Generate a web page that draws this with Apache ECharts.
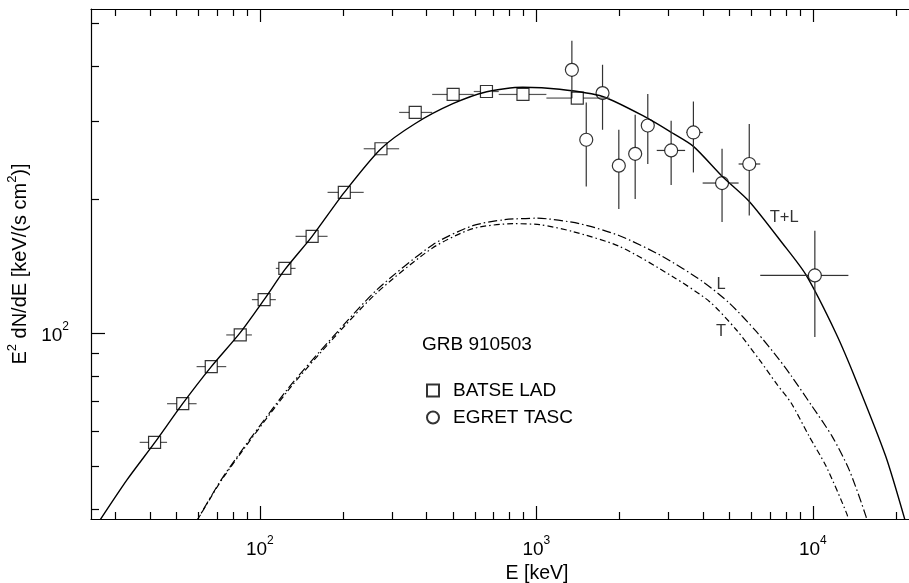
<!DOCTYPE html>
<html>
<head>
<meta charset="utf-8">
<script src="https://cdn.jsdelivr.net/npm/echarts@6/dist/echarts.min.js"></script>
<style>
    html, body {margin: 0; padding: 0; background: #fff;}
    #spectrum {width: 909px; height: 583px;}
</style>
</head>
<body>
<div id="spectrum"></div>
<script>
// axis ranges (keV, keV/(s cm2))
const xRange = [24.5, 22270];
const yRange = [38.1, 537];
const xMajor = [100, 1000, 10000];
const xMinor = [30, 40, 50, 60, 70, 80, 90, 200, 300, 400, 500, 600, 700, 800, 900,
    2000, 3000, 4000, 5000, 6000, 7000, 8000, 9000, 20000];
const yMajor = [100];
const yMinor = [40, 50, 60, 70, 80, 90, 200, 300, 400, 500];

// BATSE LAD points and energy bin edges
const batseE = [41.6, 52.6, 66.7, 84.9, 103.6, 123.1, 154.5, 202.0, 274.1, 364.6, 500, 659.9, 894.4, 1406];
const batseF = [56.7, 69.3, 84.0, 99.0, 118.9, 139.8, 165.1, 207.4, 260.1, 314.0, 344.7, 350.0, 344.7, 338.3];
const batseBins = [36.75, 46.16, 59.03, 75.56, 93.56, 114.2, 134.6, 175.7, 237.4, 318.9, 419.9, 593.6, 730.9, 1087, 1839];

// EGRET TASC points
const egretE = [1344, 1735, 1515, 1987, 2277, 2529, 3072, 3698, 4694, 5888, 10167];
const egretF = [391.7, 347.2, 272.5, 238.2, 253.3, 293.4, 257.8, 283.0, 217.7, 240.3, 134.8];
const egretFlo = [338, 287.0, 213.9, 190.3, 200.4, 240.3, 215.4, 230.0, 177.8, 184.0, 97.9];
const egretFhi = [455.3, 402.1, 330.7, 287.0, 310.2, 345.4, 300.8, 332.3, 260.1, 295.6, 170.0];
const egretElo = [1344, 1735, 1515, 1987, 2277, 2529, 2725, 3488, 3994, 5388, 6452];
const egretEhi = [1344, 1735, 1515, 1987, 2277, 2529, 3451, 3994, 5388, 6452, 13443];

// model curves: T+L (solid), L (dash-dot), T (dashed)
const tlE = [25.9, 33.1, 41.65, 52.56, 66.72, 84.9, 103.6, 123.1, 154.5, 202.0, 274.1, 363.7, 498.7,
    661.6, 892.4, 1214, 1735, 2522, 3105, 3698, 4705, 5888, 7749, 9434, 12106, 14300, 18345, 21720];
const tlF = [37.2, 46.72, 56.61, 69.31, 83.98, 100.2, 118.9, 138.9, 165.1, 207.4, 260.1, 296.1, 328.5,
    349.6, 357.8, 354.1, 341.1, 304.9, 282.2, 263.3, 225.3, 197.9, 159.5, 135.3, 100, 78.5, 52.75, 37.2];
const lE = [58.4, 73.71, 125.5, 183.9, 265.2, 422.3, 588.8, 768.3, 1003, 1433, 1999, 2858, 3985,
    4986, 6240, 7556, 8349, 9942, 11740, 13521, 15575, 15704];
const lF = [37.2, 47.48, 74.54, 98.1, 125.2, 158.1, 174.5, 180.0, 181.4, 176.3, 165.6, 148.8, 130.7,
    116.8, 100.8, 87.1, 80.1, 68.34, 58.5, 49.22, 38.58, 37.2];
const tE = [58.4, 73.71, 125.5, 183.9, 265.2, 422.3, 588.8, 821.2, 1028, 1352, 1999, 3105, 4223,
    5284, 6400, 7431, 8349, 9697, 11169, 13300, 13467];
const tF = [37.2, 47.23, 73.77, 97.1, 123.3, 155.6, 171.8, 176.3, 175.4, 169.3, 156.7, 134.1, 117.8,
    101.7, 87.1, 76.48, 69.55, 58.5, 50.07, 38.98, 37.2];

// curve names
const curveNames = ['T+L', 'L', 'T'];
const curveLabelE = [7876, 4655, 4655];
const curveLabelF = [181.8, 128.5, 100.8];

const FONT = 'Liberation Sans, Arial, Helvetica, sans-serif';
const chart = echarts.init(document.getElementById('spectrum'));

const zip = (a, b) => a.map((v, i) => [v, b[i]]);
const supFmt = (v) => '{b|10}{s|' + Math.round(Math.log10(v)) + '}';
const supRich = {
    b: {fontSize: 19, fontFamily: FONT, color: '#000', lineHeight: 24, verticalAlign: 'bottom'},
    s: {fontSize: 12, fontFamily: FONT, color: '#000', lineHeight: 24, verticalAlign: 'top'},
};

const batseBars = batseE.map((e, i) => [e, batseF[i], batseBins[i], batseBins[i + 1], batseF[i], batseF[i]]);
const egretBars = egretE.map((e, i) => [e, egretF[i], egretElo[i], egretEhi[i], egretFlo[i], egretFhi[i]]);

// error bars stop at the edge of the (hollow) marker
const errorBars = (color, r) => (params, api) => {
    const c = api.coord([api.value(0), api.value(1)]);
    const xl = api.coord([api.value(2), api.value(1)])[0];
    const xh = api.coord([api.value(3), api.value(1)])[0];
    const yl = api.coord([api.value(0), api.value(4)])[1];
    const yh = api.coord([api.value(0), api.value(5)])[1];
    const style = {stroke: color, lineWidth: 1.2};
    const segs = [];
    if (xl < c[0] - r) segs.push([xl, c[1], c[0] - r, c[1]]);
    if (xh > c[0] + r) segs.push([c[0] + r, c[1], xh, c[1]]);
    if (yh < c[1] - r) segs.push([c[0], yh, c[0], c[1] - r]);
    if (yl > c[1] + r) segs.push([c[0], c[1] + r, c[0], yl]);
    return {
        type: 'group',
        children: segs.map((s) => ({type: 'line', shape: {x1: s[0], y1: s[1], x2: s[2], y2: s[3]}, style})),
    };
};

const tickAxis = (kind, pos, values, len, showLine) => ({
    type: 'log',
    position: pos,
    min: kind === 'x' ? xRange[0] : yRange[0],
    max: kind === 'x' ? xRange[1] : yRange[1],
    axisLine: {show: showLine, onZero: false, lineStyle: {color: '#000', width: 1.2}},
    axisTick: {show: true, inside: true, length: len, customValues: values, lineStyle: {color: '#000', width: 1.2}},
    axisLabel: {show: false},
    splitLine: {show: false},
    minorTick: {show: false},
});

const option = {
    animation: false,
    backgroundColor: '#fff',
    grid: {left: 91, right: 0, top: 9, bottom: 64, outerBoundsMode: 'none', containLabel: false},
    title: {
        text: 'GRB 910503',
        left: 422,
        top: 335,
        textStyle: {fontFamily: FONT, fontSize: 19, fontWeight: 'normal', color: '#000'},
        padding: 0,
    },
    legend: {
        data: ['BATSE LAD', 'EGRET TASC'],
        orient: 'vertical',
        left: 426,
        top: 381,
        itemWidth: 12,
        itemHeight: 12,
        itemGap: 8,
        padding: 0,
        textStyle: {fontFamily: FONT, fontSize: 19, color: '#000', padding: [0, 0, 0, 9]},
    },
    xAxis: [
        {
            ...tickAxis('x', 'bottom', xMajor, 13, true),
            axisLabel: {show: true, customValues: xMajor, formatter: supFmt, rich: supRich, margin: 16},
            name: 'E [keV]',
            nameLocation: 'middle',
            nameGap: 42,
            nameTextStyle: {fontFamily: FONT, fontSize: 19.5, color: '#000', padding: [0, 0, 0, 74]},
        },
        tickAxis('x', 'bottom', xMinor, 7, false),
        tickAxis('x', 'top', xMajor, 13, true),
        tickAxis('x', 'top', xMinor, 7, false),
    ],
    yAxis: [
        {
            ...tickAxis('y', 'left', yMajor, 14, true),
            axisLabel: {show: true, customValues: yMajor, formatter: supFmt, rich: supRich, margin: 22},
            name: '{b|E}{s|2}{b| dN/dE [keV/(s cm}{s|2}{b|)]}',
            nameLocation: 'middle',
            nameRotate: 90,
            nameGap: 56,
            nameTextStyle: {
                rich: {
                    b: {fontSize: 20, fontFamily: FONT, color: '#000', lineHeight: 24, verticalAlign: 'bottom'},
                    s: {fontSize: 13, fontFamily: FONT, color: '#000', lineHeight: 24, verticalAlign: 'top'},
                },
            },
        },
        tickAxis('y', 'left', yMinor, 8, false),
    ],
    series: [
        {
            name: 'T+L', type: 'line', data: zip(tlE, tlF), showSymbol: false, smooth: 0.25,
            lineStyle: {color: '#000', width: 1.4}, z: 3,
        },
        {
            name: 'L', type: 'line', data: zip(lE, lF), showSymbol: false, smooth: 0.25,
            lineStyle: {color: '#000', width: 1.2, type: [9, 3, 1.5, 3]}, z: 3,
        },
        {
            name: 'T', type: 'line', data: zip(tE, tF), showSymbol: false, smooth: 0.25,
            lineStyle: {color: '#000', width: 1.2, type: [6, 3, 1.5, 3]}, z: 3,
        },
        {
            type: 'custom', renderItem: errorBars('#555', 6), data: batseBars,
            encode: {x: [0, 2, 3], y: [1, 4, 5]}, z: 4, silent: true,
        },
        {
            type: 'custom', renderItem: errorBars('#333', 6.5), data: egretBars,
            encode: {x: [0, 2, 3], y: [1, 4, 5]}, z: 4, silent: true,
        },
        {
            name: 'BATSE LAD', type: 'scatter', data: zip(batseE, batseF), symbol: 'rect', symbolSize: 12,
            itemStyle: {color: 'rgba(255,255,255,0)', borderColor: '#000', borderWidth: 1.2}, z: 6,
        },
        {
            name: 'EGRET TASC', type: 'scatter', data: zip(egretE, egretF), symbol: 'circle', symbolSize: 13,
            itemStyle: {color: 'rgba(255,255,255,0)', borderColor: '#000', borderWidth: 1.2}, z: 6,
        },
        {
            type: 'scatter', symbolSize: 0, silent: true, z: 7,
            data: curveNames.map((n, i) => ({name: n, value: [curveLabelE[i], curveLabelF[i]]})),
            label: {
                show: true, position: 'inside', formatter: '{b}',
                fontFamily: FONT, fontSize: 16.5, color: '#000',
            },
        },
    ],
};

chart.setOption(option);
</script>
</body>
</html>
